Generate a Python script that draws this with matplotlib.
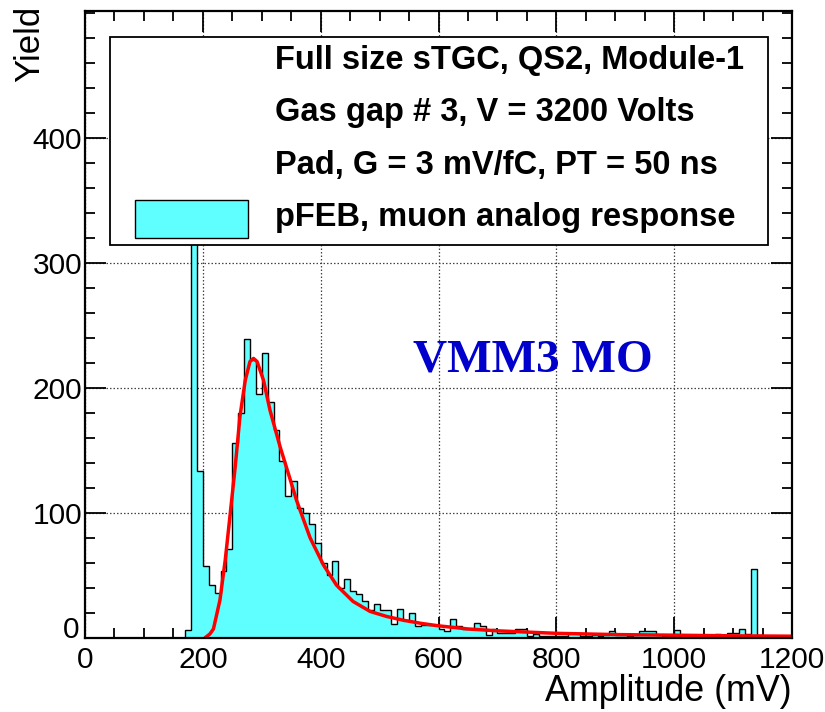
import numpy as np
import matplotlib
matplotlib.use("Agg")
import matplotlib.pyplot as plt
from matplotlib.patches import Rectangle
from matplotlib.ticker import MultipleLocator
import matplotlib.transforms as mtransforms

# ---------------- data ----------------
bin_edges = np.arange(0, 1210, 10)  # 10 mV bins, 0..1200 mV
counts = [
    0, 0, 0, 0, 0, 0, 0, 0, 0, 0,          # 0-90
    0, 0, 0, 0, 0, 0, 0, 6, 450, 133,      # 100-190
    57, 42, 36, 53, 71, 156, 180, 239, 222, 195,   # 200-290
    228, 189, 166, 141, 113, 125, 104, 100, 91, 76,  # 300-390
    60, 50, 61, 40, 47, 37, 35, 29, 22, 27,   # 400-490
    22, 22, 11, 23, 14, 20, 9, 10, 10, 10,    # 500-590
    7, 5, 15, 9, 7, 7, 12, 9, 2, 7,           # 600-690
    4, 4, 4, 7, 7, 1, 3, 1, 1, 1,             # 700-790
    1, 1, 4, 4, 1, 1, 2, 1, 2, 5,             # 800-890
    2, 2, 1, 2, 5, 5, 5, 2, 1, 1,             # 900-990
    6, 2, 1, 2, 1, 2, 1, 3, 1, 4,             # 1000-1090
    4, 7, 3, 55, 2, 0, 0, 0, 0, 0,            # 1100-1190
]

fit_x = [204, 212, 218, 229, 238, 246, 255, 263, 272, 280, 286, 292, 303,
         314, 331, 348, 359, 382, 405, 427, 455, 484, 512, 540, 570, 600,
         650, 700, 800, 900, 1000, 1100, 1200]
fit_y = [0, 3, 7, 30, 62, 97, 137, 177, 206, 221, 223.5, 221, 206,
         182, 153, 127, 110, 80, 58, 42, 29, 21, 17, 14, 11.5, 9.5,
         7, 5.5, 3.5, 2.5, 2.0, 1.5, 1.2]

legend_lines = ["Full size sTGC, QS2, Module-1",
                "Gas gap # 3, V = 3200 Volts",
                "Pad, G = 3 mV/fC, PT = 50 ns",
                "pFEB, muon analog response"]
x_ticks = [0, 200, 400, 600, 800, 1000, 1200]
y_ticks = [0, 100, 200, 300, 400]
y_tick_labels = ["", "100", "200", "300", "400"]

# ---------------- figure ----------------
fig = plt.figure(figsize=(8.25, 7.12), dpi=100)
ax = fig.add_axes([85/825, 1-637.7/712, 707/825, 626.7/712])

hist_color = "#60FFFF"
ax.stairs(counts, bin_edges, fill=True, color=hist_color, zorder=2)
ax.stairs(counts, bin_edges, color="black", lw=1.0, zorder=3)
ax.plot(fit_x, fit_y, color="#FF0000", lw=2.5, zorder=4, solid_capstyle="round")

ax.set_xlim(0, 1200)
ax.set_ylim(0, 501.5)
ax.set_xticks(x_ticks)
ax.set_yticks(y_ticks)
ax.set_yticklabels(y_tick_labels)
ax.xaxis.set_minor_locator(MultipleLocator(50))
ax.yaxis.set_minor_locator(MultipleLocator(20))

ax.grid(True, which="major", color="#444444", lw=0.9, ls=(0, (1.2, 1.6)), zorder=1)
ax.set_axisbelow(True)

for s in ax.spines.values():
    s.set_linewidth(1.6)
    s.set_zorder(6)

lab_font = "Liberation Sans"
ax.tick_params(which="both", direction="in", top=True, right=True, width=1.3)
ax.tick_params(which="major", length=15)
ax.tick_params(which="minor", length=7.5)
ax.tick_params(axis="x", labelsize=21.5, pad=6)
ax.tick_params(axis="y", labelsize=21.5, pad=2)
for lab in ax.get_xticklabels() + ax.get_yticklabels():
    lab.set_fontfamily(lab_font)

# y-axis "0" label, nudged up-left as in the original (ROOT style)
off = mtransforms.ScaledTranslation(-6/100, 8/100, fig.dpi_scale_trans)
ax.text(0, 0, "0", transform=ax.get_yaxis_transform() + off, fontsize=21.5,
        family=lab_font, ha="right", va="center")

ax.set_xlabel("Amplitude (mV)", fontsize=25.8, family=lab_font, loc="right", labelpad=0)
fig.text(30/825, 1-6/712, "Yield", rotation=90, fontsize=25, family=lab_font,
         ha="center", va="top")

# legend box
box = Rectangle((0.0354, 0.6266), 0.966-0.0354, 0.9585-0.6266, transform=ax.transAxes,
                facecolor="white", edgecolor="black", lw=1.3, zorder=5)
ax.add_patch(box)
ys = [0.9218, 0.8386, 0.754, 0.6697]
for t, y in zip(legend_lines, ys):
    ax.text(0.2687, y, t, transform=ax.transAxes, fontsize=23.5, fontweight="bold",
            family=lab_font, va="center", ha="left", zorder=7)
sw = Rectangle((0.0707, 0.6378), 0.2306-0.0707, 0.6984-0.6378, transform=ax.transAxes,
               facecolor=hist_color, edgecolor="black", lw=1.0, zorder=7)
ax.add_patch(sw)

ax.text((533-85)/707, (637.7-360)/626.7, "VMM3 MO", transform=ax.transAxes,
        fontsize=34, fontweight="bold", family="Liberation Serif", color="#0000CC",
        ha="center", va="center", zorder=7)

fig.savefig("out.png", dpi=100)
